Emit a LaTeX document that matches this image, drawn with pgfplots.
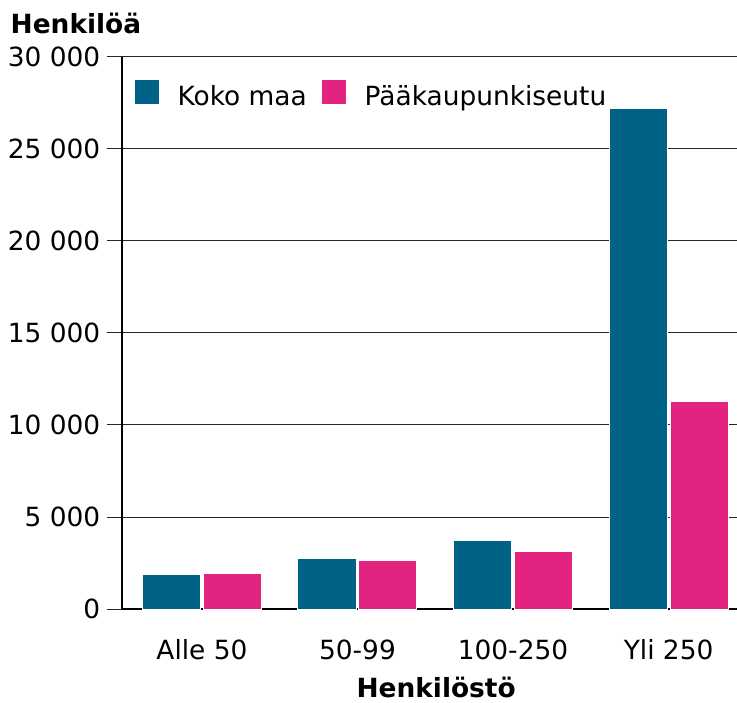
\documentclass[border=0pt]{standalone}
\usepackage{pgfplots}
\pgfplotsset{compat=1.18}
\usepackage{fontspec}
\setmainfont{DejaVu Sans}
\definecolor{koko}{RGB}{0,98,135}
\definecolor{pks}{RGB}{226,35,128}
\begin{document}
\begin{tikzpicture}[font=\fontsize{19.8pt}{23pt}\selectfont]
\begin{axis}[
  scale only axis,
  width=461.25pt, height=414pt,
  xmin=-0.514, xmax=3.44,
  ymin=0, ymax=30000,
  axis x line*=bottom, axis y line*=left,
  axis line style={black, line width=1pt},
  xtick=data,
  xticklabels={Alle 50,50-99,100-250,Yli 250},
  x tick style={draw=none},
  xticklabel style={anchor=base, yshift=-26.5pt},
  ytick={0,5000,10000,15000,20000,25000,30000},
  y tick style={black!85, line width=0.75pt},
  tick align=outside,
  major tick length=11.25pt,
  ymajorgrids,
  grid style={black!85, line width=0.75pt},
  /pgf/number format/assume math mode=true,
  /pgf/number format/1000 sep={\ },
  scaled y ticks=false,
  yticklabel style={anchor=east, xshift=-1.5pt},
  xlabel={\bfseries Henkilöstö},
  xlabel style={at={(rel axis cs:0.5,0)}, anchor=base, yshift=-66pt, xshift=5pt},
  ylabel={\bfseries Henkilöä},
  ylabel style={rotate=-90, at={(rel axis cs:0,1)}, anchor=base west, xshift=-87pt, yshift=17.25pt},
  legend columns=2,
  legend style={draw=none, fill=none, at={(rel axis cs:0,1)}, anchor=north west, xshift=6pt, yshift=-14pt,
    /tikz/every even column/.append style={column sep=9pt}},
  legend image code/.code={\fill[#1] (0pt,-6pt) rectangle (18.75pt,12.75pt);},
  bar width=0.373,
]
\addplot[ybar, bar shift=-0.196, fill=koko, draw=white, line width=0.75pt] coordinates {(0,1850) (1,2770) (2,3750) (3,27200)};
\addlegendentry{\hspace{11pt}Koko maa}
\addplot[ybar, bar shift=0.196, fill=pks, draw=white, line width=0.75pt] coordinates {(0,1920) (1,2660) (2,3150) (3,11300)};
\addlegendentry{\hspace{11pt}Pääkaupunkiseutu}
\end{axis}
\pgfresetboundingbox
\path (current axis.south west) ++(-91.5pt,-69.75pt) rectangle ++(552.75pt,526.5pt);
\end{tikzpicture}
\end{document}
